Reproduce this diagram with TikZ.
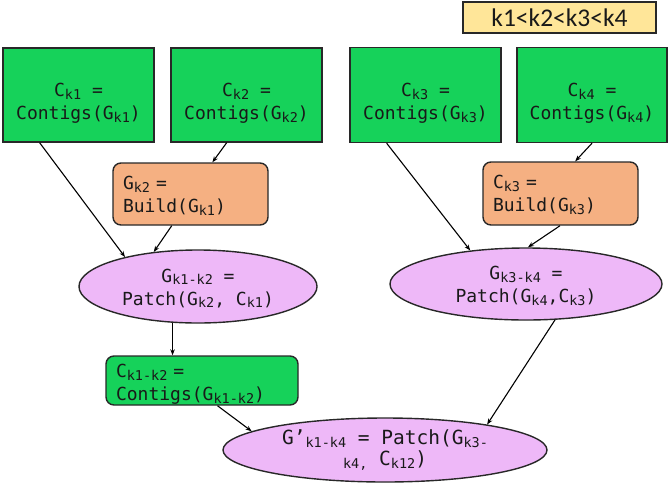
\documentclass[tikz,border=0pt]{standalone}
\usepackage{fontspec}
\usetikzlibrary{arrows.meta,calc,shapes.geometric}
\newfontfamily\monofam{DejaVu Sans Mono}
\newfontfamily\legfam{Carlito}
\newcommand\sk[1]{\raisebox{-0.3ex}{\fontsize{13.5}{13.5}\selectfont #1}}
\newcommand\lowr[1]{\rule{0pt}{#1}}
\definecolor{gfill}{RGB}{22,210,90}
\definecolor{ofill}{RGB}{245,176,130}
\definecolor{pfill}{RGB}{238,184,248}
\definecolor{yfill}{RGB}{255,230,153}
\definecolor{edgec}{RGB}{40,40,40}
\definecolor{txtc}{RGB}{25,25,25}
\tikzset{
 shp/.style={draw=edgec, line width=1.4pt, text=txtc, inner sep=0pt, font=\monofam\fontsize{18}{23}\selectfont},
 gbox/.style={shp, fill=gfill, rectangle, align=center},
 gbox2/.style={shp, fill=gfill, rectangle, rounded corners=8pt, align=left, inner xsep=10pt},
 obox/.style={shp, fill=ofill, rectangle, rounded corners=8pt, align=left, inner xsep=10pt},
 pell/.style={shp, fill=pfill, ellipse, align=center},
 legbox/.style={draw=edgec, line width=1.4pt, fill=yfill, inner sep=0pt, text=txtc, font=\legfam\fontsize{25.5}{25.5}\selectfont},
 arr/.style={-{Stealth[length=6pt,width=4.5pt]}, line width=1.1pt, draw=black},
}
\begin{document}
\begin{tikzpicture}[x=1pt,y=-1pt]
\useasboundingbox (0,0) rectangle (671,485);
\node[legbox, minimum width=193pt, minimum height=31pt] (leg) at (559.5,17.5) {k1<k2<k3<k4};
\node[gbox, minimum width=151pt, minimum height=94pt] (ck1) at (78.5,95) {\lowr{30pt}C\sk{k1} =\\Contigs(G\sk{k1})};
\node[gbox, minimum width=151pt, minimum height=94pt] (ck2) at (246.5,95) {\lowr{30pt}C\sk{k2} =\\Contigs(G\sk{k2})};
\node[gbox, minimum width=151pt, minimum height=95pt] (ck3) at (425.5,95) {\lowr{30pt}C\sk{k3} =\\Contigs(G\sk{k3})};
\node[gbox, minimum width=150pt, minimum height=95pt] (ck4) at (592,95) {\lowr{30pt}C\sk{k4} =\\Contigs(G\sk{k4})};
\node[obox, text width=135pt, minimum height=62pt] (gk2) at (190.5,194) {\lowr{17pt}G\sk{k2} =\\Build(G\sk{k1})};
\node[obox, text width=135pt, minimum height=63pt] (ck3b) at (560.5,193.5) {\lowr{17pt}C\sk{k3} =\\Build(G\sk{k3})};
\node[pell, minimum width=238pt, minimum height=73pt] (e1) at (198,286.5) {\lowr{17pt}G\sk{k1-k2} =\\Patch(G\sk{k2}, C\sk{k1})};
\node[pell, minimum width=272pt, minimum height=72pt] (e2) at (526,284) {\lowr{17pt}G\sk{k3-k4} =\\Patch(G\sk{k4},C\sk{k3})};
\node[gbox2, text width=172pt, minimum height=49pt] (ck12) at (202,380.5) {\lowr{21pt}C\sk{k1-k2} =\\Contigs(G\sk{k1-k2})};
\node[pell, minimum width=324pt, minimum height=64pt, font=\monofam\fontsize{19.5}{23}\selectfont] (e3) at (385,450) {G’\sk{k1-k4} = Patch(G\sk{k3-}\\[-2pt]\sk{k4,} C\sk{k12})};
\draw[arr] ($(ck1.south west)!0.245!(ck1.south east)$) -- (e1.158);
\draw[arr] ($(ck2.south west)!0.37!(ck2.south east)$) -- ($(gk2.north west)!0.64!(gk2.north east)$);
\draw[arr] ($(gk2.south west)!0.38!(gk2.south east)$) -- (e1.142);
\draw[arr] (e1.235) -- (e1.235 |- ck12.north);
\draw[arr] ($(ck12.south west)!0.58!(ck12.south east)$) -- (e3.172);
\draw[arr] ($(ck3.south west)!0.245!(ck3.south east)$) -- (e2.149);
\draw[arr] ($(ck4.south west)!0.5!(ck4.south east)$) -- ($(ck3b.north west)!0.594!(ck3b.north east)$);
\draw[arr] ($(ck3b.south west)!0.497!(ck3b.south east)$) -- (e2.87);
\draw[arr] (e2.309) -- (e3.14);
\end{tikzpicture}
\end{document}
